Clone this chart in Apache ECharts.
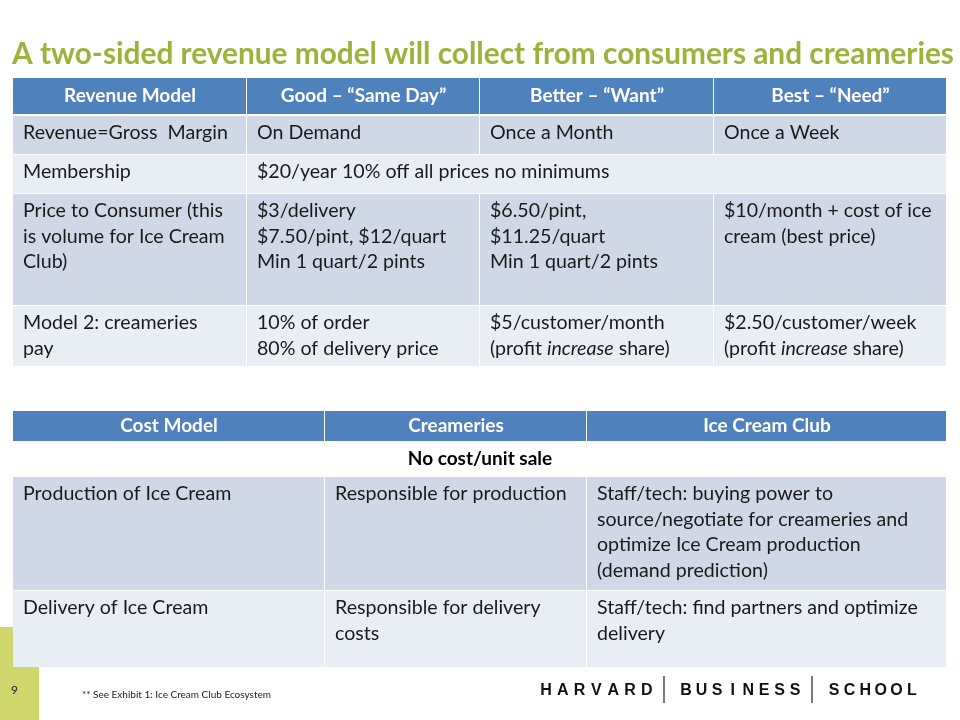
<!DOCTYPE html>
<html>
<head>
<meta charset="utf-8">
<script src="https://cdn.jsdelivr.net/npm/echarts@6/dist/echarts.min.js"></script>
<style>
  html, body { margin: 0; padding: 0; background: #fff; }
  #main { width: 960px; height: 720px; }
</style>
</head>
<body>
<div id="main"></div>
<script>
// slide text
const title = 'A two-sided revenue model will collect from consumers and creameries';

// revenue table
const revHeader = ['Revenue Model', 'Good – “Same Day”', 'Better – “Want”', 'Best – “Need”'];
const revRows = [
  ['Revenue=Gross  Margin', 'On Demand', 'Once a Month', 'Once a Week'],
  ['Membership', '$20/year 10% off all prices no minimums'],
  ['Price to Consumer (this\nis volume for Ice Cream\nClub)', '$3/delivery\n$7.50/pint, $12/quart\nMin 1 quart/2 pints', '$6.50/pint,\n$11.25/quart\nMin 1 quart/2 pints', '$10/month + cost of ice\ncream (best price)'],
  ['Model 2: creameries\npay', '10% of order\n80% of delivery price', '$5/customer/month\n(profit {i|increase} share)', '$2.50/customer/week\n(profit {i|increase} share)']
];

// cost table
const costHeader = ['Cost Model', 'Creameries', 'Ice Cream Club'];
const costNote = 'No cost/unit sale';
const costRows = [
  ['Production of Ice Cream', 'Responsible for production', 'Staff/tech: buying power to\nsource/negotiate for creameries and\noptimize Ice Cream production\n(demand prediction)'],
  ['Delivery of Ice Cream', 'Responsible for delivery\ncosts', 'Staff/tech: find partners and optimize\ndelivery']
];

const pageNum = '9';
const footnote = '** See Exhibit 1: Ice Cream Club Ecosystem';
const logoWords = ['HARVARD', 'BUSINESS', 'SCHOOL'];

// layout (pixels)
const FONT = 'Lato, "Open Sans", sans-serif';
const BODY_SIZE = 19.6;
const revCols = [13, 247, 480, 714, 947];
const revHeadY = [78, 114];
const revRowY = [[116, 154], [155, 193], [194, 305], [306, 366]];
const costCols = [13, 325, 587, 947];
const costHeadY = [411, 441];
const costNoteY = [441, 477];
const costRowY = [[477, 590], [591, 667]];
const colors = { head: '#4F81BD', dark: '#D0D8E8', light: '#E9EDF4', title: '#9BB23B', bar: '#CFD66C' };

const g = [];

function rect(x1, y1, x2, y2, fill) {
  g.push({ type: 'rect', shape: { x: x1, y: y1, width: x2 - x1, height: y2 - y1 }, style: { fill: fill } });
}

function cellText(x, y, text) {
  g.push({
    type: 'text', x: x, y: y,
    style: {
      text: text, font: BODY_SIZE + 'px ' + FONT, fill: '#1a1a1a', lineHeight: 25.5,
      verticalAlign: 'top', align: 'left',
      rich: { i: { fontStyle: 'italic', fontSize: BODY_SIZE, fontFamily: FONT, lineHeight: 25.5 } }
    }
  });
}

function header(cols, ys, labels, size) {
  labels.forEach(function (t, i) {
    rect(cols[i], ys[0], cols[i + 1] - 1, ys[1], colors.head);
    g.push({
      type: 'text', x: (cols[i] + cols[i + 1]) / 2, y: (ys[0] + ys[1]) / 2,
      style: { text: t, font: 'bold ' + size + 'px ' + FONT, fill: '#fff', align: 'center', verticalAlign: 'middle' }
    });
  });
}

function body(cols, rowsY, rows, startDark) {
  rows.forEach(function (row, r) {
    const fill = (r % 2 === 0) === startDark ? colors.dark : colors.light;
    const y = rowsY[r];
    row.forEach(function (t, c) {
      // last cell of a short row spans the rest
      const right = c === row.length - 1 ? cols[cols.length - 1] : cols[c + 1];
      rect(cols[c], y[0], right - 1, y[1], fill);
      cellText(cols[c] + 10, y[0] + 4, t);
    });
  });
}

// left accent bar
rect(0, 627, 39, 720, colors.bar);

// title
g.push({
  type: 'text', x: 12, y: 54,
  style: { text: title, font: 'bold 29.8px ' + FONT, fill: colors.title, verticalAlign: 'middle' }
});

header(revCols, revHeadY, revHeader, 19);
body(revCols, revRowY, revRows, true);

header(costCols, costHeadY, costHeader, 19);
g.push({
  type: 'text', x: 480, y: (costNoteY[0] + costNoteY[1]) / 2,
  style: { text: costNote, font: 'bold 19px ' + FONT, fill: '#000', align: 'center', verticalAlign: 'middle' }
});
body(costCols, costRowY, costRows, true);

// footer
g.push({ type: 'text', x: 11, y: 690, style: { text: pageNum, font: '12px ' + FONT, fill: '#222', verticalAlign: 'middle' } });
g.push({ type: 'text', x: 82, y: 695, style: { text: footnote, font: '10px ' + FONT, fill: '#222', verticalAlign: 'middle' } });

// logo: spaced caps with thin separators
const logoStart = [546, 686, 834];
const logoPitch = [16.8, 15.6, 15.6];
logoWords.forEach(function (w, i) {
  for (let k = 0; k < w.length; k++) {
    g.push({
      type: 'text', x: logoStart[i] + k * logoPitch[i], y: 691,
      style: { text: w[k], font: 'bold 16px "Liberation Sans", Arial, sans-serif', fill: '#111', align: 'center', verticalAlign: 'middle' }
    });
  }
});
[664, 812].forEach(function (x) {
  g.push({ type: 'line', shape: { x1: x, y1: 676, x2: x, y2: 703 }, style: { stroke: '#222', lineWidth: 1.2 } });
});

const chart = echarts.init(document.getElementById('main'));
chart.setOption({
  backgroundColor: '#fff',
  animation: false,
  graphic: g
});
</script>
</body>
</html>
